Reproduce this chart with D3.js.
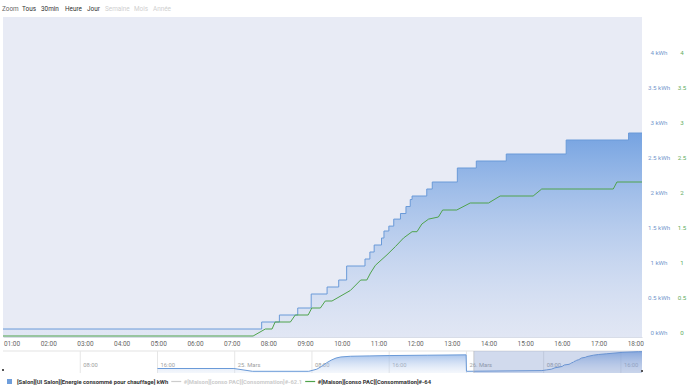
<!DOCTYPE html>
<html><head><meta charset="utf-8">
<script src="https://cdn.jsdelivr.net/npm/d3@7"></script>
<style>
html,body{margin:0;padding:0;background:#fff;}
svg{display:block;font-family:Roboto,"Open Sans",sans-serif;}
</style></head><body>
<svg id="c" width="690" height="390"></svg>
<script>
// ---------- DATA ----------
const rangeButtons = ["Zoom","Tous","30min","Heure","Jour","Semaine","Mois","Année"];
const rangeButtonState = ["label","on","on","on","on","off","off","off"];

// main series (26 Mars) – blue energy (step), time of change -> value kWh
const blueTimes  = ["00:00","07:49","08:18","08:48","09:10","09:36","09:55","10:08","10:38","10:46","10:53","11:05","11:09","11:17","11:25","11:36","11:45","11:52","11:55","12:19","12:28","13:09","13:40","14:29","16:07","17:49","18:11"];
const blueValues = [0.1,0.2,0.3,0.4,0.6,0.7,0.8,1.0,1.1,1.2,1.3,1.4,1.5,1.57,1.67,1.75,1.85,1.95,2.0,2.1,2.2,2.4,2.5,2.6,2.8,2.9,2.9];

// green consumption (linear)
const greenTimes  = ["00:00","07:35","07:55","08:06","08:11","08:36","08:44","09:05","09:11","09:25","09:33","09:44","10:14","10:31","10:41","10:47","10:55","11:14","11:28","11:41","11:55","12:03","12:11","12:22","12:38","12:45","13:08","13:30","14:00","14:19","15:13","15:27","17:24","17:30","18:11"];
const greenValues = [0,0,0.1,0.1,0.2,0.2,0.3,0.3,0.4,0.4,0.5,0.5,0.65,0.8,0.8,0.9,1.01,1.16,1.28,1.4,1.49,1.49,1.6,1.67,1.7,1.8,1.8,1.9,1.9,2.0,2.0,2.1,2.1,2.2,2.2];

// navigator: earlier days (24-25 Mars)
const navPrevTimes  = ["2024-03-24T16:00","2024-03-24T23:55","2024-03-25T01:50","2024-03-25T07:40","2024-03-25T08:30","2024-03-25T09:00","2024-03-25T09:30","2024-03-25T10:00","2024-03-25T10:30","2024-03-25T11:00","2024-03-25T12:00","2024-03-25T14:00","2024-03-25T16:00","2024-03-25T20:00","2024-03-25T23:58"];
const navPrevValues = [0.5,0.5,0.1,0.1,0.4,0.8,1.3,1.7,2.0,2.15,2.25,2.3,2.35,2.4,2.45];

const yTicks = [0,0.5,1,1.5,2,2.5,3,3.5,4];
const monthName = "Mars";
const legendItems = [
  {name:"[Salon][UI Salon][Energie consommé pour chauffage] kWh", type:"area", color:"#6f9edb", visible:true},
  {name:"#[Maison][conso PAC][Consommation]#-62.1", type:"line", color:"#cccccc", visible:false},
  {name:"#[Maison][conso PAC][Consommation]#-64", type:"line", color:"#4fa34c", visible:true}
];
const mainDay = "2024-03-26";
const viewStart = "2024-03-26T00:46", viewEnd = "2024-03-26T18:11";
const navStart = "2024-03-24T00:00";

// ---------- DRAW ----------
const svg = d3.select("#c");
const P = d3.timeParse("%Y-%m-%dT%H:%M");
const plot = {l:3, r:642, t:17, b:337};
const defs = svg.append("defs");

// range selector
const btnX = [2,22,41,65,87,105,134,153];
rangeButtons.forEach((b,i)=>{
  svg.append("text").attr("x",btnX[i]).attr("y",10.5).attr("font-size",6.4)
    .attr("fill", rangeButtonState[i]==="label" ? "#666" : rangeButtonState[i]==="on" ? "#333" : "#cfcfcf")
    .text(b);
});

// plot background
svg.append("rect").attr("x",plot.l).attr("y",plot.t).attr("width",plot.r-plot.l).attr("height",plot.b-plot.t).attr("fill","#e8ebf5");

const x = d3.scaleTime().domain([P(viewStart),P(viewEnd)]).range([plot.l,plot.r]);
const y = d3.scaleLinear().domain([0,4]).range([336,56]);

defs.append("clipPath").attr("id","pc").append("rect").attr("x",plot.l).attr("y",plot.t).attr("width",plot.r-plot.l).attr("height",plot.b-plot.t);
const g = defs.append("linearGradient").attr("id","ag").attr("x1",0).attr("y1",0).attr("x2",0).attr("y2",1);
g.append("stop").attr("offset",0).attr("stop-color","#6f9fe0").attr("stop-opacity",0.95);
g.append("stop").attr("offset",1).attr("stop-color","#b9cdee").attr("stop-opacity",0.15);

const blue = blueTimes.map((t,i)=>({t:P(mainDay+"T"+t), v:blueValues[i]}));
const green = greenTimes.map((t,i)=>({t:P(mainDay+"T"+t), v:greenValues[i]}));

const cg = svg.append("g").attr("clip-path","url(#pc)");
cg.append("path").datum(blue).attr("fill","url(#ag)")
  .attr("d", d3.area().curve(d3.curveStepAfter).x(d=>x(d.t)).y0(plot.b).y1(d=>y(d.v)));
cg.append("path").datum(blue).attr("fill","none").attr("stroke","#6a9ad8").attr("stroke-width",1)
  .attr("d", d3.line().curve(d3.curveStepAfter).x(d=>x(d.t)).y(d=>y(d.v)));
cg.append("path").datum(green).attr("fill","none").attr("stroke","#4fa34c").attr("stroke-width",1)
  .attr("d", d3.line().x(d=>x(d.t)).y(d=>y(d.v)));

// x axis
const xa = svg.append("g").attr("transform",`translate(0,${plot.b})`)
  .call(d3.axisBottom(x).ticks(d3.timeHour.every(1)).tickFormat(d3.timeFormat("%H:%M")).tickSize(0).tickPadding(4));
xa.select(".domain").attr("stroke","#d8dde8");
xa.selectAll("text").attr("font-size",6.5).attr("fill","#666").attr("font-family","Roboto,sans-serif");

// right axes
const ya = svg.append("g");
yTicks.forEach(v=>{
  ya.append("text").attr("x",659).attr("y",y(v)-3).attr("dy","0.35em").attr("text-anchor","middle")
    .attr("font-size",6.2).attr("fill","#7397cc").text(d3.format("")(v)+" kWh");
  ya.append("text").attr("x",682).attr("y",y(v)-3).attr("dy","0.35em").attr("text-anchor","middle")
    .attr("font-size",6.2).attr("fill","#64ad62").text(d3.format("")(v));
});

// navigator
const nav = {t:351, b:373};
const nx = d3.scaleTime().domain([P(navStart),P(viewEnd)]).range([plot.l,plot.r]);
const ny = d3.scaleLinear().domain([0,3]).range([372,351]);
svg.append("line").attr("x1",plot.l).attr("x2",plot.r).attr("y1",nav.t).attr("y2",nav.t).attr("stroke","#e3e3e3");
const navTicks = nx.ticks(d3.timeHour.every(8)).filter(t=>t>P(navStart));
navTicks.forEach(t=>{
  svg.append("line").attr("x1",nx(t)).attr("x2",nx(t)).attr("y1",nav.t).attr("y2",nav.b).attr("stroke","#e6e6e6");
  const lab = t.getHours()===0 ? `${t.getDate()}. ${monthName}` : d3.timeFormat("%H:%M")(t);
  svg.append("text").attr("x",nx(t)+3).attr("y",367).attr("font-size",5.8).attr("fill","#a0a0a0").text(lab);
});
const navData = navPrevTimes.map((t,i)=>({t:P(t),v:navPrevValues[i]})).concat(blue);
const ng = defs.append("linearGradient").attr("id","ng").attr("x1",0).attr("y1",0).attr("x2",0).attr("y2",1);
ng.append("stop").attr("offset",0).attr("stop-color","#7fa8e3").attr("stop-opacity",0.8);
ng.append("stop").attr("offset",1).attr("stop-color","#c9d8f1").attr("stop-opacity",0.2);
svg.append("path").datum(navData).attr("fill","url(#ng)")
  .attr("d", d3.area().x(d=>nx(d.t)).y0(nav.b).y1(d=>ny(d.v)));
svg.append("path").datum(navData).attr("fill","none").attr("stroke","#6a9ad8").attr("stroke-width",1)
  .attr("d", d3.line().x(d=>nx(d.t)).y(d=>ny(d.v)));
// selection mask
svg.append("rect").attr("x",nx(P(viewStart))).attr("y",nav.t).attr("width",plot.r-nx(P(viewStart))).attr("height",nav.b-nav.t)
  .attr("fill","rgba(102,133,194,0.3)");
svg.append("line").attr("x1",nx(P(viewStart))).attr("x2",nx(P(viewStart))).attr("y1",nav.t).attr("y2",nav.b).attr("stroke","#b5b5b5").attr("stroke-width",0.6);
svg.append("rect").attr("x",plot.r-1).attr("y",370).attr("width",2).attr("height",2).attr("fill","#555");
svg.append("rect").attr("x",2).attr("y",369).attr("width",2).attr("height",2).attr("fill","#555");

// legend
const lg = svg.append("g");
let lx = 7;
legendItems.forEach((it,i)=>{
  if(it.type==="area"){
    lg.append("rect").attr("x",lx).attr("y",379).attr("width",5).attr("height",5).attr("fill",it.color);
    lx += 10;
  } else {
    lg.append("line").attr("x1",lx).attr("x2",lx+10).attr("y1",381.5).attr("y2",381.5).attr("stroke",it.color).attr("stroke-width",1.2);
    lx += 12.5;
  }
  const t = lg.append("text").attr("x",lx).attr("y",384).attr("font-size",5.85).attr("font-weight","bold")
    .attr("fill", it.visible ? "#333" : "#cccccc").text(it.name);
  lx += t.node().getComputedTextLength() + 3;
});
</script></body></html>
